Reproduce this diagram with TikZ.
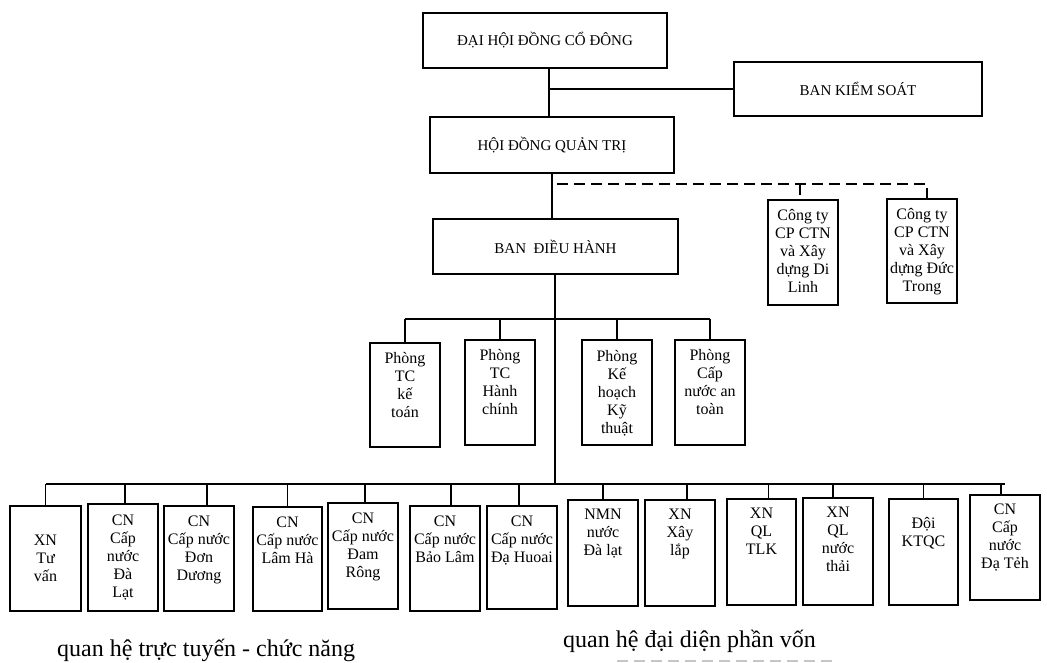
\documentclass[tikz,border=0pt]{standalone}
\usepackage{fontspec}
\setmainfont{Liberation Serif}
\newcommand\bxtext[4]{\parbox[c][#2pt][t]{#1pt}{\centering\vspace*{#3pt}\strut #4}}
\begin{document}
\begin{tikzpicture}[x=1pt,y=-1pt]
\tikzset{
  bx/.style={draw, line width=1.3pt, inner sep=0pt, outer sep=0pt, anchor=north west, font=\fontsize{16}{18}\selectfont},
  big/.style={draw, line width=1.3pt, inner sep=0pt, outer sep=0pt, anchor=north west, font=\fontsize{15}{18}\selectfont, align=center},
  ln/.style={line width=1.3pt},
  dsh/.style={line width=1.3pt, dash pattern=on 11pt off 6pt},
  legend/.style={anchor=base west, inner sep=0pt, font=\fontsize{24}{28}\selectfont},
}
\useasboundingbox (0,0) rectangle (1047,662);
\fill[white] (0,0) rectangle (1047,662);

% top level
\node[big, minimum width=244pt, minimum height=55pt] (dh) at (423,13) {ĐẠI HỘI ĐỒNG CỔ ĐÔNG};
\node[big, minimum width=248pt, minimum height=54pt] (bks) at (734,62) {BAN KIỂM SOÁT};
\node[big, minimum width=244pt, minimum height=56pt] (hd) at (430,117) {HỘI ĐỒNG QUẢN TRỊ};
\node[big, minimum width=245pt, minimum height=55pt] (bdh) at (433,219) {BAN\ \ ĐIỀU HÀNH};

% companies
\node[bx] (dl) at (768,200) {\bxtext{70}{105}{8}{Công ty\\CP CTN\\và Xây\\dựng Di\\Linh}};
\node[bx] (dt) at (887,199) {\bxtext{70}{104}{8}{Công ty\\CP CTN\\và Xây\\dựng Đức\\Trong}};

% departments
\node[bx] (p1) at (370,343) {\bxtext{70}{104}{8}{Phòng\\TC\\kế\\toán}};
\node[bx] (p2) at (465,340) {\bxtext{70}{105}{8}{Phòng\\TC\\Hành\\chính}};
\node[bx] (p3) at (582,340) {\bxtext{70}{105}{9}{Phòng\\Kế\\hoạch\\Kỹ\\thuật}};
\node[bx] (p4) at (675,340) {\bxtext{70}{105}{8}{Phòng\\Cấp\\nước an\\toàn}};

% units
\node[bx] (b1) at (10,506) {\bxtext{71}{105}{27}{XN\\Tư\\vấn}};
\node[bx] (b2) at (88,504) {\bxtext{70}{107}{9}{CN\\Cấp\\nước\\Đà\\Lạt}};
\node[bx] (b3) at (164,506) {\bxtext{70}{105}{8}{CN\\Cấp nước\\Đơn\\Dương}};
\node[bx] (b4) at (253,507) {\bxtext{69}{104}{8}{CN\\Cấp nước\\Lâm Hà}};
\node[bx] (b5) at (328,503) {\bxtext{70}{106}{8}{CN\\Cấp nước\\Đam\\Rông}};
\node[bx] (b6) at (410,506) {\bxtext{70}{105}{8}{CN\\Cấp nước\\Bảo Lâm}};
\node[bx] (b7) at (487,506) {\bxtext{70}{103}{8}{CN\\Cấp nước\\Đạ Huoai}};
\node[bx] (b8) at (568,500) {\bxtext{70}{106}{7}{NMN\\nước\\Đà lạt}};
\node[bx] (b9) at (645,500) {\bxtext{70}{106}{7}{XN\\Xây\\lắp}};
\node[bx] (b10) at (727,499) {\bxtext{69}{106}{7}{XN\\QL\\TLK}};
\node[bx] (b11) at (803,498) {\bxtext{70}{107}{7}{XN\\QL\\nước\\thải}};
\node[bx] (b12) at (889,499) {\bxtext{69}{106}{17}{Đội\\KTQC}};
\node[bx] (b13) at (970,495) {\bxtext{70}{105}{7}{CN\\Cấp\\nước\\Đạ Tẻh}};

% connectors
\coordinate (j1) at (549,89);
\coordinate (j2) at (552,184);
\coordinate (j3) at (555,319);
\coordinate (j4) at (555,484);
\coordinate (d1) at (800,184);
\coordinate (d2) at (927,184);

\draw[ln] (dh.south -| j1) -- (hd.north -| j1);
\draw[ln] (j1) -- (bks.west |- j1);
\draw[ln] (hd.south -| j2) -- (bdh.north -| j2);
\draw[dsh] ([xshift=5pt]j2) -- (d2) -- (d2 |- dt.north);
\draw[dsh] (d1) -- (d1 |- dl.north);

\draw[ln] (bdh.south -| j4) -- (j4);
\draw[ln] (p1.north |- j3) -- (p4.north |- j3);
\foreach \p in {p1,p2,p3,p4} \draw[ln] (\p.north |- j3) -- (\p.north);

\draw[ln] (b1.north |- j4) -- (b13.north |- j4);
\foreach \b/\s in {b1/0,b2/2,b3/8,b4/0,b5/2,b6/6,b7/-3,b8/0,b9/7,b10/7,b11/-5,b12/0,b13/-4}
  \draw[ln] ([xshift=\s pt]\b.north |- j4) -- ([xshift=\s pt]\b.north);

% legend
\node[legend] (lg1) at (57,656) {quan hệ trực tuyến - chức năng};
\node[legend] (lg2) at (563,647) {quan hệ đại diện phần vốn};
\coordinate (ls1) at (617,661);
\coordinate (ls2) at (837,661);
\draw[dsh, gray!45] (ls1) -- (ls2);
\end{tikzpicture}
\end{document}
